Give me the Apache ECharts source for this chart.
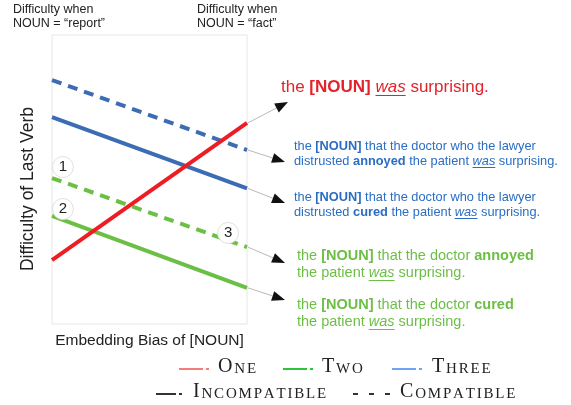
<!DOCTYPE html>
<html>
<head>
<meta charset="utf-8">
<script src="https://cdn.jsdelivr.net/npm/echarts@6/dist/echarts.min.js"></script>
<style>
  html, body { margin: 0; background: #fff; }
  #main { width: 571px; height: 405px; }
</style>
</head>
<body>
<div id="main"></div>
<script>
// difficulty at the two ends of the embedding-bias axis (0 = "report", 1 = "fact")
const bias = [0, 1];
const oneIncompatible = [2.21, 6.96];
const threeCompatible = [8.44, 6.02];
const threeIncompatible = [7.16, 4.69];
const twoCompatible = [5.05, 2.66];
const twoIncompatible = [3.74, 1.25];

const RED = '#ee1d23', BLUE = '#3b6cb4', GREEN = '#6cbf45';
const SANS = '"Liberation Sans", Arial, sans-serif';
const SERIF = '"Liberation Serif", "Times New Roman", serif';

const chart = echarts.init(document.getElementById('main'));
const ctx = document.createElement('canvas').getContext('2d');

function fontOf(size, kind, fam) {
  let f = '';
  if (kind === 'b') f = 'bold ';
  if (kind === 'u') f = 'italic ';
  return f + size + 'px ' + fam;
}
function measure(text, font) {
  ctx.font = font;
  return ctx.measureText(text).width;
}
function pts(arr) {
  return bias.map((x, i) => [x, arr[i]]);
}

function lineSeries(name, arr, color, dashed, marks) {
  const s = {
    name: name,
    type: 'line',
    data: pts(arr),
    showSymbol: false,
    silent: true,
    lineStyle: { color: color, width: 4, type: dashed ? [10, 7] : 'solid', cap: 'butt' },
    itemStyle: { color: color }
  };
  if (marks) {
    s.markPoint = {
      symbol: 'circle',
      symbolSize: 21,
      silent: true,
      itemStyle: { color: '#fff', borderColor: '#e0e0e0', borderWidth: 1 },
      label: { show: true, formatter: '{b}', color: '#222', fontSize: 15, fontFamily: SANS },
      data: marks
    };
  }
  return s;
}

chart.setOption({
  animation: false,
  grid: { left: 52, top: 35, width: 195, height: 289, show: true, borderColor: '#e6e6e6', borderWidth: 1 },
  xAxis: {
    type: 'value', min: 0, max: 1,
    name: 'Embedding Bias of [NOUN]', nameLocation: 'middle', nameGap: 9,
    nameTextStyle: { fontSize: 15.5, color: '#222', fontFamily: SANS },
    axisLine: { show: false }, axisTick: { show: false }, axisLabel: { show: false }, splitLine: { show: false }
  },
  yAxis: {
    type: 'value', min: 0, max: 10,
    name: 'Difficulty of Last Verb', nameLocation: 'middle', nameGap: 15,
    nameTextStyle: { fontSize: 17.5, color: '#222', fontFamily: SANS, padding: [0, 19, 0, 0] },
    axisLine: { show: false }, axisTick: { show: false }, axisLabel: { show: false }, splitLine: { show: false }
  },
  series: [
    lineSeries('Three compatible', threeCompatible, BLUE, true),
    lineSeries('Three incompatible', threeIncompatible, BLUE, false),
    lineSeries('Two compatible', twoCompatible, GREEN, true, [
      { name: '1', coord: [0.056, 5.43] },
      { name: '3', coord: [0.903, 3.15] }
    ]),
    lineSeries('Two incompatible', twoIncompatible, GREEN, false, [
      { name: '2', coord: [0.056, 3.98] }
    ]),
    lineSeries('One incompatible', oneIncompatible, RED, false)
  ]
});

// annotations: arrows from the right end of each line to its sentence
const notes = [
  { arr: oneIncompatible, tip: [288, 102], color: '#e3232b', size: 17, x: 281, y: 87, lh: 18,
    lines: [[['the ', 'n'], ['[NOUN]', 'b'], [' ', 'n'], ['was', 'u'], [' surprising.', 'n']]] },
  { arr: threeCompatible, tip: [285, 162], color: '#2a6dc3', size: 12.8, x: 294, y: 146, lh: 15,
    lines: [[['the ', 'n'], ['[NOUN]', 'b'], [' that the doctor who the lawyer', 'n']],
            [['distrusted ', 'n'], ['annoyed', 'b'], [' the patient ', 'n'], ['was', 'u'], [' surprising.', 'n']]] },
  { arr: threeIncompatible, tip: [285, 203], color: '#2a6dc3', size: 12.8, x: 294, y: 197, lh: 15,
    lines: [[['the ', 'n'], ['[NOUN]', 'b'], [' that the doctor who the lawyer', 'n']],
            [['distrusted ', 'n'], ['cured', 'b'], [' the patient ', 'n'], ['was', 'u'], [' surprising.', 'n']]] },
  { arr: twoCompatible, tip: [285, 263], color: '#6cbf45', size: 14.5, x: 297, y: 256, lh: 17,
    lines: [[['the ', 'n'], ['[NOUN]', 'b'], [' that the doctor ', 'n'], ['annoyed', 'b']],
            [['the patient ', 'n'], ['was', 'u'], [' surprising.', 'n']]] },
  { arr: twoIncompatible, tip: [285, 300], color: '#6cbf45', size: 14.5, x: 297, y: 305, lh: 17,
    lines: [[['the ', 'n'], ['[NOUN]', 'b'], [' that the doctor ', 'n'], ['cured', 'b']],
            [['the patient ', 'n'], ['was', 'u'], [' surprising.', 'n']]] }
];

const g = [];

function txt(text, x, y, font, color, align) {
  g.push({
    type: 'text', silent: true, z: 20, x: x, y: y,
    style: { text: text, font: font, fill: color, align: align || 'left', verticalAlign: 'middle' }
  });
}

notes.forEach(n => {
  const p = chart.convertToPixel({ gridIndex: 0 }, [1, n.arr[1]]);
  const sx = p[0] + 1, sy = p[1];
  const dx = n.tip[0] - sx, dy = n.tip[1] - sy;
  const len = Math.sqrt(dx * dx + dy * dy);
  const ux = dx / len, uy = dy / len;
  const L = 13, W = 5;
  const bx = n.tip[0] - ux * L, by = n.tip[1] - uy * L;
  g.push({ type: 'line', silent: true, z: 15, shape: { x1: sx, y1: sy, x2: bx, y2: by },
    style: { stroke: '#b8b8b8', lineWidth: 1 } });
  g.push({ type: 'polygon', silent: true, z: 16,
    shape: { points: [[n.tip[0], n.tip[1]], [bx - uy * W, by + ux * W], [bx + uy * W, by - ux * W]] },
    style: { fill: '#111' } });

  n.lines.forEach((line, li) => {
    let cx = n.x;
    const cy = n.y + li * n.lh;
    line.forEach(seg => {
      const f = fontOf(n.size, seg[1], SANS);
      const w = measure(seg[0], f);
      txt(seg[0], cx, cy, f, n.color);
      if (seg[1] === 'u') {
        const uy2 = Math.round(cy + n.size * 0.45) + 0.5;
        g.push({ type: 'line', silent: true, z: 20, shape: { x1: cx, y1: uy2, x2: cx + w, y2: uy2 },
          style: { stroke: n.color, lineWidth: 1 } });
      }
      cx += w;
    });
  });
});

// header labels above the two ends
txt('Difficulty when', 13, 10, '12.5px ' + SANS, '#222');
txt('NOUN = \u201creport\u201d', 13, 24, '12.5px ' + SANS, '#222');
txt('Difficulty when', 197, 10, '12.5px ' + SANS, '#222');
txt('NOUN = \u201cfact\u201d', 197, 24, '12.5px ' + SANS, '#222');

// legend, small caps drawn letter by letter
function smallCaps(word, x, baseline, color) {
  const big = 20, small = 15, track = 1.8;
  let cx = x;
  for (let i = 0; i < word.length; i++) {
    const ch = word[i].toUpperCase();
    const size = i === 0 ? big : small;
    const f = size + 'px ' + SERIF;
    txt(ch, cx, baseline - size * 0.35, f, color || '#222');
    cx += measure(ch, f) + track;
  }
}
function legendLine(x1, x2, y, color, dashed) {
  if (dashed) {
    [0, 16, 32].forEach(o => g.push({ type: 'line', silent: true,
      shape: { x1: x1 + o, y1: y, x2: x1 + o + 5, y2: y }, style: { stroke: color, lineWidth: 2 } }));
    return;
  }
  g.push({ type: 'line', silent: true, shape: { x1: x1, y1: y, x2: x2, y2: y }, style: { stroke: color, lineWidth: 2 } });
  g.push({ type: 'line', silent: true, shape: { x1: x2 + 3, y1: y, x2: x2 + 6, y2: y }, style: { stroke: color, lineWidth: 2 } });
}

const legendNames = ['One', 'Two', 'Three'];
const legendColors = ['#f77b76', '#2bc43a', '#6ea4f4'];
const legendX = [179, 283, 392];
const textX = [218, 322, 432];
legendNames.forEach((nm, i) => {
  legendLine(legendX[i], legendX[i] + 24, 369, legendColors[i]);
  smallCaps(nm, textX[i], 374);
});
legendLine(156, 176, 394, '#333');
smallCaps('Incompatible', 193, 399);
legendLine(353, 390, 394, '#333', true);
smallCaps('Compatible', 400, 399);

chart.setOption({ graphic: { elements: g } });
</script>
</body>
</html>
